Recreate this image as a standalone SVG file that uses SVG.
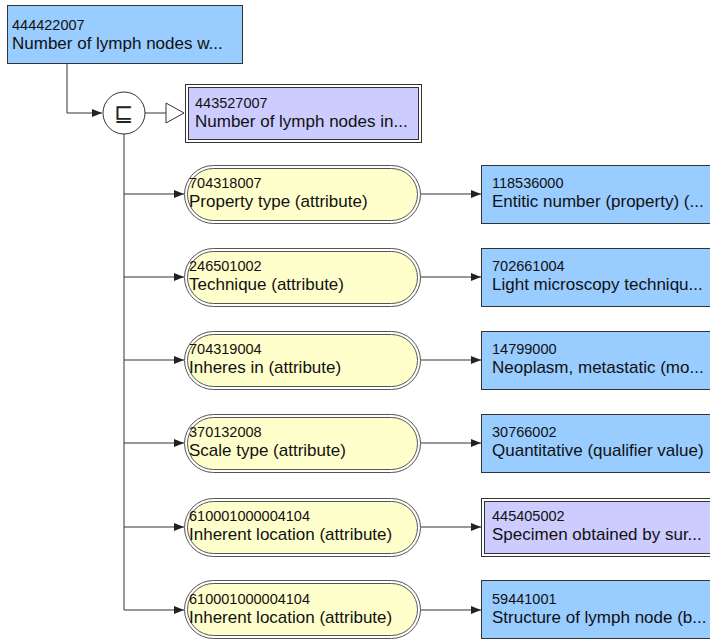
<svg xmlns="http://www.w3.org/2000/svg" width="710" height="639" viewBox="0 0 710 639">
<style>
.bg{fill:#ffffff}
.blue{fill:#99ccff;stroke:#333333;stroke-width:1}
.pout{fill:#ffffff;stroke:#333333;stroke-width:1}
.pin{fill:#ccccff;stroke:#333333;stroke-width:1}
.yout{fill:#ffffff;stroke:#555555;stroke-width:1}
.yin{fill:#ffffcc;stroke:#555555;stroke-width:1}
.num{font-family:"Liberation Sans",Arial,sans-serif;font-size:14.5px;fill:#111111}
.nm{font-family:"Liberation Sans",Arial,sans-serif;font-size:17px;fill:#111111}
.ln{fill:none;stroke:#333333;stroke-width:1}
</style>
<defs>
<marker id="arr" markerUnits="userSpaceOnUse" markerWidth="10" markerHeight="10" refX="10" refY="5" orient="auto">
<path d="M0,1 L10,5 L0,9 Z" fill="#222222"/>
</marker>
</defs>
<rect class="bg" x="0" y="0" width="710" height="639"/>
<g id="connectors">
<path class="ln" d="M67,63 V113 H102" marker-end="url(#arr)"/>
<path class="ln" d="M145,113 H166"/>
<path d="M166,103 L184,113 L166,123 Z" fill="#ffffff" stroke="#333333" stroke-width="1"/>
<path class="ln" d="M124,134 V610"/>
<path class="ln" d="M124,194 H184" marker-end="url(#arr)"/>
<path class="ln" d="M124,277 H184" marker-end="url(#arr)"/>
<path class="ln" d="M124,360 H184" marker-end="url(#arr)"/>
<path class="ln" d="M124,443 H184" marker-end="url(#arr)"/>
<path class="ln" d="M124,527 H184" marker-end="url(#arr)"/>
<path class="ln" d="M124,610 H184" marker-end="url(#arr)"/>
<path class="ln" d="M420,194 H481" marker-end="url(#arr)"/>
<path class="ln" d="M420,277 H481" marker-end="url(#arr)"/>
<path class="ln" d="M420,360 H481" marker-end="url(#arr)"/>
<path class="ln" d="M420,443 H481" marker-end="url(#arr)"/>
<path class="ln" d="M420,527 H481" marker-end="url(#arr)"/>
<path class="ln" d="M420,610 H481" marker-end="url(#arr)"/>
</g>
<g id="n444422007">
<rect class="blue" x="7.5" y="5.5" width="235" height="58"/>
<text class="num" x="12" y="30">444422007</text>
<text class="nm" x="12" y="49">Number of lymph nodes w...</text>
</g>
<g id="op">
<circle cx="124" cy="113" r="21" fill="#ffffff" stroke="#333333" stroke-width="1"/>
<text x="124" y="121" text-anchor="middle" font-family="DejaVu Sans, sans-serif" font-size="23" fill="#222222">⊑</text>
</g>
<g id="n443527007">
<rect class="pout" x="185.5" y="84.5" width="236" height="58"/>
<rect class="pin" x="188.5" y="87.5" width="230" height="52"/>
<text class="num" x="195" y="108">443527007</text>
<text class="nm" x="195" y="127">Number of lymph nodes in...</text>
</g>
<g id="a1">
<rect class="yout" x="184.5" y="165.5" width="236" height="58" rx="29"/>
<rect class="yin" x="187.5" y="168.5" width="230" height="52" rx="26"/>
<text class="num" x="189" y="188">704318007</text>
<text class="nm" x="189" y="207">Property type (attribute)</text>
</g>
<g id="a2">
<rect class="yout" x="184.5" y="248.5" width="236" height="58" rx="29"/>
<rect class="yin" x="187.5" y="251.5" width="230" height="52" rx="26"/>
<text class="num" x="189" y="271">246501002</text>
<text class="nm" x="189" y="290">Technique (attribute)</text>
</g>
<g id="a3">
<rect class="yout" x="184.5" y="331.5" width="236" height="58" rx="29"/>
<rect class="yin" x="187.5" y="334.5" width="230" height="52" rx="26"/>
<text class="num" x="189" y="354">704319004</text>
<text class="nm" x="189" y="373">Inheres in (attribute)</text>
</g>
<g id="a4">
<rect class="yout" x="184.5" y="414.5" width="236" height="58" rx="29"/>
<rect class="yin" x="187.5" y="417.5" width="230" height="52" rx="26"/>
<text class="num" x="189" y="437">370132008</text>
<text class="nm" x="189" y="456">Scale type (attribute)</text>
</g>
<g id="a5">
<rect class="yout" x="184.5" y="498.5" width="236" height="58" rx="29"/>
<rect class="yin" x="187.5" y="501.5" width="230" height="52" rx="26"/>
<text class="num" x="189" y="521">610001000004104</text>
<text class="nm" x="189" y="540">Inherent location (attribute)</text>
</g>
<g id="a6">
<rect class="yout" x="184.5" y="580.5" width="236" height="58" rx="29"/>
<rect class="yin" x="187.5" y="583.5" width="230" height="52" rx="26"/>
<text class="num" x="189" y="604">610001000004104</text>
<text class="nm" x="189" y="623">Inherent location (attribute)</text>
</g>
<g id="v1">
<rect class="blue" x="481.5" y="165.5" width="240" height="58"/>
<text class="num" x="492" y="188">118536000</text>
<text class="nm" x="492" y="207">Entitic number (property) (...</text>
</g>
<g id="v2">
<rect class="blue" x="481.5" y="248.5" width="240" height="58"/>
<text class="num" x="492" y="271">702661004</text>
<text class="nm" x="492" y="290">Light microscopy techniqu...</text>
</g>
<g id="v3">
<rect class="blue" x="481.5" y="331.5" width="240" height="58"/>
<text class="num" x="492" y="354">14799000</text>
<text class="nm" x="492" y="373">Neoplasm, metastatic (mo...</text>
</g>
<g id="v4">
<rect class="blue" x="481.5" y="414.5" width="240" height="58"/>
<text class="num" x="492" y="437">30766002</text>
<text class="nm" x="492" y="456">Quantitative (qualifier value)</text>
</g>
<g id="v5">
<rect class="pout" x="481.5" y="498.5" width="240" height="58"/>
<rect class="pin" x="484.5" y="501.5" width="240" height="52"/>
<text class="num" x="492" y="521">445405002</text>
<text class="nm" x="492" y="540">Specimen obtained by sur...</text>
</g>
<g id="v6">
<rect class="blue" x="481.5" y="580.5" width="240" height="58"/>
<text class="num" x="492" y="604">59441001</text>
<text class="nm" x="492" y="623">Structure of lymph node (b...</text>
</g>
</svg>
